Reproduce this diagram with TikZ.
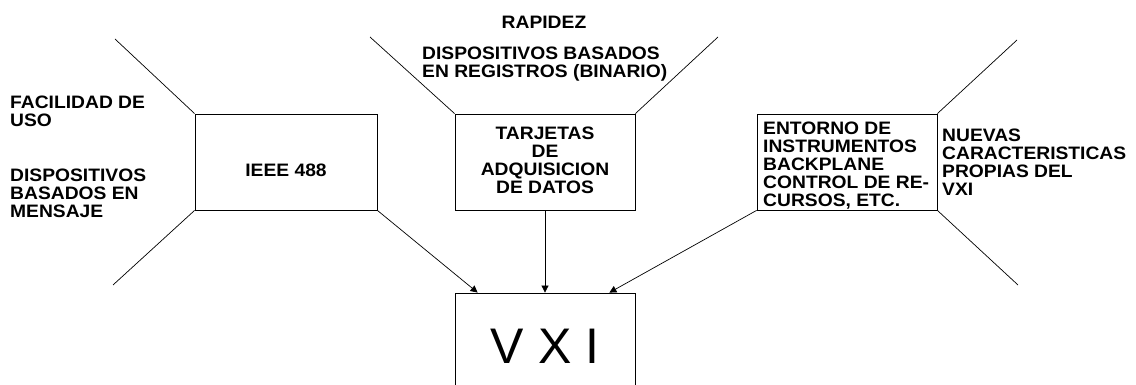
\documentclass[tikz,border=0pt]{standalone}
\usepackage{fontspec}
\setmainfont{Liberation Sans}[FakeStretch=1.07]
\newfontfamily\plainfont{Liberation Sans}
\usetikzlibrary{arrows.meta,calc}
\begin{document}
\begin{tikzpicture}[x=1pt,y=-1pt,
  box/.style={draw, line width=0.8pt, inner sep=0pt},
  lbl/.style={font=\fontsize{18}{18}\selectfont\bfseries, inner sep=0pt},
  ln/.style={line width=0.7pt},
  arr/.style={line width=0.7pt, -{Triangle[length=7pt,width=7pt]}}]
\useasboundingbox (0,0) rectangle (1136,385);
\clip (0,0) rectangle (1136,385);
% boxes
\node[box, minimum width=182pt, minimum height=96pt] (ieee) at (286,162) {};
\node[box, minimum width=180pt, minimum height=96pt] (tarj) at (545,162) {};
\node[box, minimum width=180pt, minimum height=96pt] (ent) at (847,162) {};
\node[box, minimum width=180pt, minimum height=107pt, font=\plainfont\fontsize{50}{50}\selectfont] (vxi) at (545,346.5) {V X I};
% texts
\node[lbl] (tieee) at (286,170) {IEEE 488};
\node[lbl, anchor=north, align=center] (ttarj) at (545,127) {TARJETAS\\DE\\ADQUISICION\\DE DATOS};
\node[lbl, anchor=north west, align=left] (tent) at (763,122) {ENTORNO DE\\INSTRUMENTOS\\BACKPLANE\\CONTROL DE RE-\\CURSOS, ETC.};
\node[lbl, anchor=north west, align=left] (fac) at (10,96) {FACILIDAD DE\\USO};
\node[lbl, anchor=north west, align=left] (dmen) at (10,169) {DISPOSITIVOS\\BASADOS EN\\MENSAJE};
\node[lbl, anchor=north] (rap) at (544,16) {RAPIDEZ};
\node[lbl, anchor=north west, align=left] (dreg) at (422,47) {DISPOSITIVOS BASADOS\\EN REGISTROS (BINARIO)};
\node[lbl, anchor=north west, align=left] (nuev) at (942,129) {NUEVAS\\CARACTERISTICAS\\PROPIAS DEL\\VXI};
% free ends
\coordinate (e1) at (115,39);
\coordinate (e2) at (113,285);
\coordinate (e3) at (370,37);
\coordinate (e4) at (718,37);
\coordinate (e5) at (1017,40);
\coordinate (e6) at (1018,285);
\draw[ln] (ieee.north west) -- (e1);
\draw[ln] (ieee.south west) -- (e2);
\draw[ln] (tarj.north west) -- (e3);
\draw[ln] (tarj.north east) -- (e4);
\draw[ln] (ent.north east) -- (e5);
\draw[ln] (ent.south east) -- (e6);
% arrows
\draw[arr] (ieee.south east) -- ($(vxi.north west)+(23,0)$);
\draw[arr] (tarj.south) -- (vxi.north);
\draw[arr] (ent.south west) -- ($(vxi.north east)+(-26,0)$);
\end{tikzpicture}
\end{document}
